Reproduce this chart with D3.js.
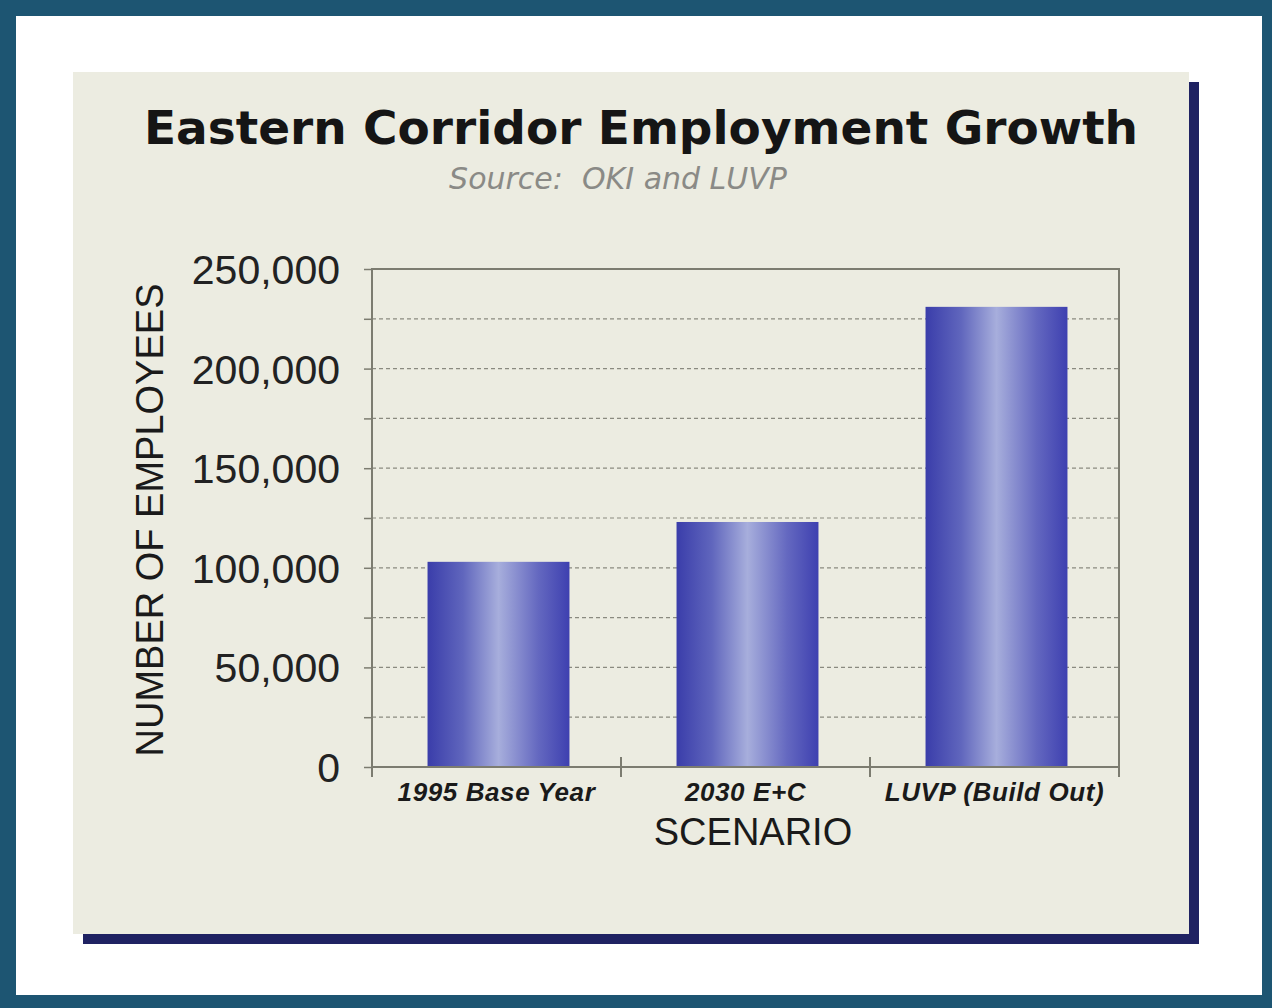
<!DOCTYPE html>
<html>
<head>
<meta charset="utf-8">
<script src="https://cdn.jsdelivr.net/npm/d3@7"></script>
<style>
  body { margin: 0; background: #fff; }
  svg { display: block; }
</style>
</head>
<body>
<svg id="chart" width="1272" height="1008"></svg>
<script>
var categories = ["1995 Base Year", "2030 E+C", "LUVP (Build Out)"];
var employees = [103000, 123000, 231000];
var yTicks = [0, 50000, 100000, 150000, 200000, 250000];
var gridTicks = [25000, 50000, 75000, 100000, 125000, 150000, 175000, 200000, 225000];

var svg = d3.select("#chart");

// outer frame
svg.append("rect").attr("x", 0).attr("y", 0).attr("width", 1272).attr("height", 1008).attr("fill", "#1d5572");
svg.append("rect").attr("x", 16).attr("y", 16).attr("width", 1246).attr("height", 979).attr("fill", "#ffffff");

// panel shadow + panel
svg.append("rect").attr("x", 83).attr("y", 82).attr("width", 1116).attr("height", 862).attr("fill", "#1f2262");
svg.append("rect").attr("x", 73).attr("y", 72).attr("width", 1116).attr("height", 862).attr("fill", "#ecece1");

var defs = svg.append("defs");
var grad = defs.append("linearGradient").attr("id", "barGrad")
    .attr("x1", "0%").attr("x2", "100%").attr("y1", "0%").attr("y2", "0%");
grad.append("stop").attr("offset", "0%").attr("stop-color", "#3a3daa");
grad.append("stop").attr("offset", "25%").attr("stop-color", "#6066bd");
grad.append("stop").attr("offset", "50%").attr("stop-color", "#a7aedc");
grad.append("stop").attr("offset", "78%").attr("stop-color", "#6468c0");
grad.append("stop").attr("offset", "100%").attr("stop-color", "#3e40b0");

var margin = {left: 372, top: 269, right: 1119, bottom: 767};

var x = d3.scaleBand().domain(categories).range([margin.left, margin.right]).paddingInner(0.43).paddingOuter(0.215);
var xOuter = d3.scaleBand().domain(categories).range([margin.left, margin.right]);
var y = d3.scaleLinear().domain([0, 250000]).range([margin.bottom, margin.top]);

// gridlines
svg.append("g").selectAll("line").data(gridTicks).join("line")
    .attr("x1", margin.left).attr("x2", margin.right)
    .attr("y1", d => y(d)).attr("y2", d => y(d))
    .attr("stroke", "#8a8a80").attr("stroke-width", 1.2).attr("stroke-dasharray", "4,3");

// bars
svg.append("g").selectAll("rect").data(employees).join("rect")
    .attr("x", (d, i) => x(categories[i]) + 2)
    .attr("width", x.bandwidth())
    .attr("y", d => y(d))
    .attr("height", d => y(0) - y(d))
    .attr("fill", "url(#barGrad)");

// plot frame
svg.append("rect").attr("x", margin.left).attr("y", margin.top)
    .attr("width", margin.right - margin.left).attr("height", margin.bottom - margin.top)
    .attr("fill", "none").attr("stroke", "#7c7c70").attr("stroke-width", 2);

// y axis
var yAxis = svg.append("g").attr("transform", "translate(" + margin.left + ",0)")
    .call(d3.axisLeft(y).tickValues(d3.range(0, 250001, 25000)).tickSize(8).tickFormat(""));
yAxis.select(".domain").remove();
yAxis.selectAll("line").attr("stroke", "#7c7c70").attr("stroke-width", 1.5);

svg.append("g").selectAll("text").data(yTicks).join("text")
    .attr("x", 340).attr("y", d => y(d) + 15)
    .attr("text-anchor", "end")
    .attr("font-family", "Liberation Sans, Arial, sans-serif")
    .attr("font-size", 41).attr("fill", "#222")
    .text(d => d3.format(",")(d));

// x axis ticks (between categories)
var xTickPos = categories.map(c => xOuter(c)).concat([margin.right]);
svg.append("g").selectAll("line").data(xTickPos).join("line")
    .attr("x1", d => d).attr("x2", d => d)
    .attr("y1", margin.bottom - 10).attr("y2", margin.bottom + 10)
    .attr("stroke", "#7c7c70").attr("stroke-width", 2);

svg.append("g").selectAll("text").data(categories).join("text")
    .attr("x", d => xOuter(d) + xOuter.bandwidth() / 2)
    .attr("y", 801)
    .attr("text-anchor", "middle")
    .attr("font-family", "Liberation Sans, Arial, sans-serif")
    .attr("font-size", 26).attr("font-weight", "bold").attr("font-style", "italic")
    .attr("letter-spacing", 0.6)
    .attr("fill", "#1a1a1a")
    .text(d => d);

// axis titles
svg.append("text").attr("x", 753).attr("y", 845).attr("text-anchor", "middle")
    .attr("font-family", "Liberation Sans, Arial, sans-serif").attr("font-size", 38).attr("fill", "#1a1a1a")
    .text("SCENARIO");
svg.append("text").attr("transform", "translate(163,520) rotate(-90)").attr("text-anchor", "middle")
    .attr("font-family", "Liberation Sans, Arial, sans-serif").attr("font-size", 38).attr("fill", "#1a1a1a")
    .text("NUMBER OF EMPLOYEES");

// title
svg.append("text").attr("x", 641).attr("y", 144).attr("text-anchor", "middle")
    .attr("font-family", "DejaVu Sans, Verdana, sans-serif").attr("font-size", 47).attr("font-weight", "bold")
    .attr("fill", "#151515")
    .text("Eastern Corridor Employment Growth");
svg.append("text").attr("x", 618).attr("y", 189).attr("text-anchor", "middle")
    .attr("font-family", "DejaVu Sans, Verdana, sans-serif").attr("font-size", 30).attr("font-style", "italic")
    .attr("fill", "#8a8a86").attr("xml:space", "preserve").style("white-space", "pre")
    .text("Source:  OKI and LUVP");
</script>
</body>
</html>
